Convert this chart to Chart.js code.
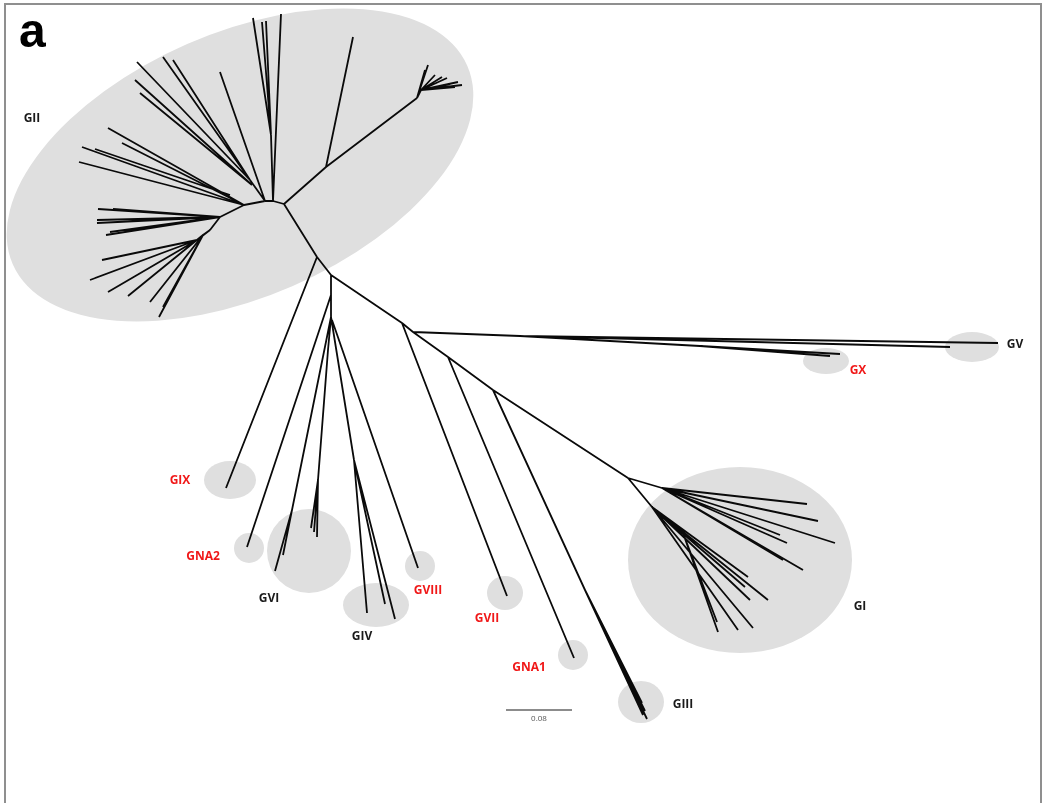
<!DOCTYPE html>
<html>
<head>
<meta charset="utf-8">
<script src="https://cdn.jsdelivr.net/npm/chart.js@4.4.1/dist/chart.umd.min.js"></script>
<style>
  html, body { margin: 0; padding: 0; background: #fff; overflow: hidden; }
  #wrap { position: relative; width: 1046px; height: 803px; }
  #frame {
    position: absolute; left: 4px; top: 3px; width: 1038px; height: 830px;
    border: 2px solid #8f8f8f; box-sizing: border-box;
  }
  #tree { position: absolute; left: 0; top: 0; }
</style>
</head>
<body>
<div id="wrap">
  <div id="frame"></div>
  <canvas id="tree" width="1046" height="803"></canvas>
</div>
<script>
// Tree layout units (x right, y down). Branch segments: [x1, y1, x2, y2]
const backboneBranches = [
  [265, 201, 273, 201], [273, 201, 284, 204], [244, 205, 265, 201],
  [244, 205, 220, 217], [220, 217, 210, 230],
  [284, 204, 317, 257], [317, 257, 331, 275],
  [284, 204, 326, 167], [326, 167, 417, 98],
  [331, 275, 331, 295], [331, 295, 331, 317],
  [331, 275, 402, 323], [402, 323, 413, 332], [413, 332, 448, 357],
  [448, 357, 493, 390], [493, 390, 628, 478]
];

const giiBranches = [
  // upper vertical fan
  [273, 201, 271, 135], [271, 135, 253, 18], [271, 135, 262, 22], [271, 135, 266, 21],
  [273, 201, 281, 14],
  // upper-left fan
  [265, 201, 220, 72], [265, 201, 250, 180], [250, 180, 163, 57], [250, 180, 173, 60],
  [250, 180, 137, 62], [252, 185, 135, 80], [252, 185, 140, 93],
  // left fan from inner node
  [244, 205, 108, 128], [244, 205, 122, 143], [244, 205, 82, 147], [244, 205, 79, 162],
  [230, 195, 95, 149],
  // middle-left fan
  [220, 217, 98, 209], [220, 217, 113, 209], [220, 217, 97, 223], [220, 217, 97, 220],
  [220, 217, 106, 235], [220, 217, 110, 232],
  // lower-left fan
  [210, 230, 197, 240], [197, 240, 102, 260], [197, 240, 90, 280], [197, 240, 95, 278],
  [197, 240, 108, 292], [210, 230, 203, 235], [203, 235, 128, 296], [203, 235, 150, 302],
  [203, 235, 159, 317], [203, 235, 163, 307],
  // upper-right
  [326, 167, 353, 37],
  [417, 98, 428, 65], [417, 98, 425, 70], [417, 98, 421, 90], [421, 90, 435, 75],
  [421, 90, 442, 77], [421, 90, 447, 78], [421, 90, 458, 82], [421, 90, 462, 85],
  [421, 90, 455, 87], [421, 90, 450, 84]
];

const outerBranches = [
  // GIX
  [317, 257, 226, 488],
  // GNA2
  [331, 295, 247, 547],
  // GVI
  [331, 317, 292, 510], [292, 510, 283, 555], [292, 510, 275, 571],
  [331, 317, 328, 350], [328, 350, 318, 480], [318, 480, 311, 528], [318, 480, 314, 532],
  [318, 480, 317, 537],
  // GIV
  [331, 317, 354, 460], [354, 460, 367, 613], [354, 460, 385, 604], [354, 460, 395, 619],
  // GVIII
  [332, 320, 418, 568],
  // GVII
  [402, 323, 507, 596],
  // GNA1
  [448, 357, 574, 658],
  // GIII
  [493, 390, 585, 590], [585, 590, 642, 703], [585, 590, 643, 715], [585, 590, 647, 719],
  [585, 590, 645, 711],
  // GV / GX
  [413, 332, 520, 336], [520, 336, 998, 343], [520, 336, 950, 347],
  [520, 336, 700, 346], [700, 346, 840, 354], [700, 346, 830, 356]
];

const giBranches = [
  [628, 478, 662, 488], [628, 478, 652, 507],
  [662, 488, 807, 504], [662, 488, 818, 521], [662, 488, 835, 543],
  [662, 488, 780, 535], [662, 488, 787, 543], [662, 488, 803, 570], [662, 488, 783, 560],
  [652, 507, 683, 533], [683, 533, 718, 632], [683, 533, 717, 622], [652, 507, 738, 630],
  [652, 507, 753, 628], [652, 507, 768, 600], [652, 507, 750, 600],
  [652, 507, 745, 587], [652, 507, 748, 577]
];

// Clade shading: [cx, cy, rx, ry, rotationDeg]
const cladeShapes = [
  [240, 165, 248, 132, -23.6], // GII
  [230, 480, 26, 19, 0],       // GIX
  [249, 548, 15, 15, 0],       // GNA2
  [309, 551, 42, 42, 0],       // GVI
  [376, 605, 33, 22, 0],       // GIV
  [420, 566, 15, 15, 0],       // GVIII
  [505, 593, 18, 17, 0],       // GVII
  [573, 655, 15, 15, 0],       // GNA1
  [641, 702, 23, 21, 0],       // GIII
  [740, 560, 112, 93, 0],      // GI
  [826, 361, 23, 13, 0],       // GX
  [972, 347, 27, 15, 0]        // GV
];

const cladeLabels = ["GII", "GIX", "GNA2", "GVI", "GIV", "GVIII", "GVII", "GNA1", "GIII", "GI", "GX", "GV"];
const labelX = [32, 180, 203, 269, 362, 428, 487, 529, 683, 860, 858, 1015];
const labelY = [119, 481, 557, 599, 637, 591, 619, 668, 705, 607, 371, 345];
const labelRed = [false, true, true, false, false, true, true, true, false, false, true, false];

const scaleBar = [506, 710, 572, 710];
const scaleBarText = "0.08";

function toLineData(segments) {
  const pts = [];
  segments.forEach(s => {
    pts.push({ x: s[0], y: s[1] }, { x: s[2], y: s[3] }, { x: s[2], y: null });
  });
  return pts;
}

const cladePlugin = {
  id: "clades",
  beforeDatasetsDraw(chart) {
    const { ctx, scales: { x, y } } = chart;
    ctx.save();
    ctx.fillStyle = "#dfdfdf";
    cladeShapes.forEach(e => {
      const cx = x.getPixelForValue(e[0]);
      const cy = y.getPixelForValue(e[1]);
      const rx = Math.abs(x.getPixelForValue(e[0] + e[2]) - cx);
      const ry = Math.abs(y.getPixelForValue(e[1] + e[3]) - cy);
      ctx.beginPath();
      ctx.ellipse(cx, cy, rx, ry, e[4] * Math.PI / 180, 0, Math.PI * 2);
      ctx.fill();
    });
    ctx.restore();
  },
  afterDatasetsDraw(chart) {
    const { ctx, scales: { x, y } } = chart;
    ctx.save();
    ctx.textAlign = "center";
    ctx.textBaseline = "middle";
    ctx.font = "bold 12px 'Open Sans', sans-serif";
    cladeLabels.forEach((t, i) => {
      ctx.fillStyle = labelRed[i] ? "#f01818" : "#1a1a1a";
      ctx.fillText(t, x.getPixelForValue(labelX[i]), y.getPixelForValue(labelY[i]));
    });
    ctx.font = "8px 'Open Sans', sans-serif";
    ctx.fillStyle = "#555";
    ctx.fillText(scaleBarText, x.getPixelForValue((scaleBar[0] + scaleBar[2]) / 2), y.getPixelForValue(scaleBar[1] + 9));
    // panel letter
    ctx.font = "bold 48px 'Liberation Sans', Arial, sans-serif";
    ctx.textAlign = "left";
    ctx.textBaseline = "alphabetic";
    ctx.fillStyle = "#000";
    ctx.fillText("a", x.getPixelForValue(19), y.getPixelForValue(47));
    ctx.restore();
  }
};

new Chart(document.getElementById("tree"), {
  type: "scatter",
  data: {
    datasets: [
      {
        label: "branches",
        data: toLineData(backboneBranches.concat(giiBranches, outerBranches, giBranches)),
        showLine: true,
        spanGaps: false,
        borderColor: "#0a0a0a",
        borderWidth: 1.8,
        pointRadius: 0,
        tension: 0
      },
      {
        label: "scale",
        data: toLineData([scaleBar]),
        showLine: true,
        spanGaps: false,
        borderColor: "#666",
        borderWidth: 1.5,
        pointRadius: 0
      }
    ]
  },
  options: {
    responsive: false,
    animation: false,
    events: [],
    layout: { padding: 0 },
    plugins: { legend: { display: false }, tooltip: { enabled: false } },
    scales: {
      x: { type: "linear", min: 0, max: 1046, display: false },
      y: { type: "linear", min: 0, max: 803, reverse: true, display: false }
    }
  },
  plugins: [cladePlugin]
});
</script>
</body>
</html>
